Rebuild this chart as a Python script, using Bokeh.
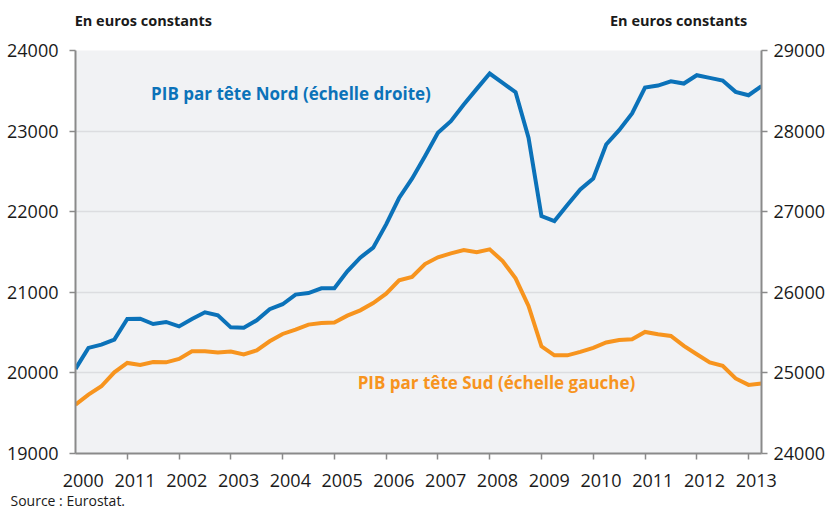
from bokeh.plotting import figure
from bokeh.models import (Range1d, LinearAxis, FixedTicker, Label, Title,
                          CustomJSTickFormatter)
from bokeh.embed import file_html
from bokeh.resources import INLINE

# ---------------- data ----------------
first_year = 2000
n_quarters = 54  # 2000 T1 ... 2013 T2
quarters = [first_year + q / 4 for q in range(n_quarters)]

# PIB par tête Nord (échelle droite), euros constants
nord = [25050, 25310, 25351, 25413, 25669, 25673, 25607, 25632,
        25577, 25669, 25752, 25715, 25565, 25561, 25652, 25790,
        25852, 25972, 25990, 26050, 26050, 26260, 26430, 26554,
        26843, 27170, 27410, 27689, 27979, 28123, 28330, 28524,
        28714, 28599, 28482, 27917, 26945, 26883, 27082, 27276,
        27412, 27834, 28012, 28219, 28540, 28565, 28618, 28590,
        28693, 28660, 28627, 28487, 28445, 28557]

# PIB par tête Sud (échelle gauche), euros constants
sud = [19607, 19731, 19834, 20007, 20124, 20099, 20136, 20131,
       20173, 20268, 20268, 20252, 20264, 20230, 20280, 20392,
       20483, 20537, 20599, 20620, 20624, 20710, 20776, 20867,
       20983, 21148, 21190, 21351, 21434, 21483, 21524, 21496,
       21533, 21388, 21173, 20830, 20330, 20218, 20218, 20260,
       20310, 20377, 20409, 20418, 20508, 20480, 20458, 20335,
       20232, 20129, 20087, 19931, 19851, 19869]

year_ticks = [2000, 2001, 2002, 2003, 2004, 2005, 2006,
              2007, 2008, 2009, 2010, 2011, 2012, 2013]
year_labels = ["2000", "2011", "2002", "2003", "2004", "2005", "2006",
               "2007", "2008", "2009", "2010", "2011", "2012", "2013"]
left_ticks = [19000, 20000, 21000, 22000, 23000, 24000]
right_ticks = [24000, 25000, 26000, 27000, 28000, 29000]

nord_label = "PIB par tête Nord (échelle droite)"
sud_label = "PIB par tête Sud (échelle gauche)"
unit_label = "En euros constants"
source_text = "Source : Eurostat."

# ---------------- styles / positions ----------------
BLUE = "#0b72b9"
ORANGE = "#f7941e"
AXIS = "#8a8a8a"
GRID = "#dcdde0"
TXT = "#1a1a1a"
FONT = "Open Sans"
label_shift = 0.15
unit_label_x = [2001.31, 2011.65]   # centres of the two unit captions

p = figure(width=827, height=513, output_backend="svg", toolbar_location=None,
           x_range=Range1d(first_year, quarters[-1]),
           y_range=Range1d(left_ticks[0], left_ticks[-1]),
           min_border_left=75, min_border_right=65,
           min_border_top=50, min_border_bottom=60)
p.extra_y_ranges = {"right": Range1d(right_ticks[0], right_ticks[-1])}
p.background_fill_color = "#f1f2f4"
p.border_fill_color = "white"
p.outline_line_color = None

# x axis
xa = p.xaxis[0]
xa.ticker = FixedTicker(ticks=[y + label_shift for y in year_ticks],
                        minor_ticks=year_ticks[1:])
xa.formatter = CustomJSTickFormatter(
    args=dict(labels=year_labels, first=year_ticks[0], shift=label_shift),
    code="return labels[Math.round(tick - shift - first)];")
xa.major_tick_line_color = None
xa.major_tick_out = 6
xa.major_tick_in = 0
xa.minor_tick_line_color = AXIS
xa.minor_tick_line_width = 1.5
xa.minor_tick_out = 6
xa.minor_tick_in = 0
xa.axis_line_color = AXIS
xa.axis_line_width = 2
xa.major_label_standoff = 14
xa.major_label_text_font = FONT
xa.major_label_text_font_size = "18px"
xa.major_label_text_color = TXT

# unit captions above the plot (an axis carrying only labels)
ua = LinearAxis(ticker=FixedTicker(ticks=unit_label_x),
                formatter=CustomJSTickFormatter(args=dict(text=unit_label),
                                                code="return text;"))
ua.axis_line_color = None
ua.major_tick_line_color = None
ua.minor_tick_line_color = None
ua.major_tick_out = 0
ua.major_tick_in = 0
ua.major_label_standoff = 21
ua.major_label_text_font = FONT
ua.major_label_text_font_style = "bold"
ua.major_label_text_font_size = "14.5px"
ua.major_label_text_color = TXT
p.add_layout(ua, "above")

# left y axis
ya = p.yaxis[0]
ya.ticker = FixedTicker(ticks=left_ticks)
ya.axis_line_color = AXIS
ya.axis_line_width = 2
ya.major_tick_line_color = AXIS
ya.major_tick_line_width = 1.5
ya.major_tick_out = 6
ya.major_tick_in = 0
ya.minor_tick_line_color = None
ya.major_label_standoff = 11
ya.major_label_text_font = FONT
ya.major_label_text_font_size = "18px"
ya.major_label_text_color = TXT

# right y axis
ra = LinearAxis(y_range_name="right", ticker=FixedTicker(ticks=right_ticks))
ra.axis_line_color = AXIS
ra.axis_line_width = 2
ra.major_tick_line_color = AXIS
ra.major_tick_line_width = 1.5
ra.major_tick_out = 6
ra.major_tick_in = 0
ra.minor_tick_line_color = None
ra.major_label_standoff = 6
ra.major_label_text_font = FONT
ra.major_label_text_font_size = "18px"
ra.major_label_text_color = TXT
p.add_layout(ra, "right")

# grid
p.xgrid.visible = False
p.ygrid.ticker = FixedTicker(ticks=left_ticks)
p.ygrid.grid_line_color = GRID
p.ygrid.grid_line_width = 1.5

# lines
p.line(quarters, sud, line_color=ORANGE, line_width=4, line_join="miter")
p.line(quarters, nord, line_color=BLUE, line_width=4, line_join="miter",
       y_range_name="right")

# series labels
p.add_layout(Label(x=2001.46, y=28466, y_range_name="right", text=nord_label,
                   text_color=BLUE, text_font=FONT, text_font_style="bold",
                   text_font_size="17px", text_baseline="middle", text_align="left"))
p.add_layout(Label(x=2005.45, y=19885, text=sud_label,
                   text_color=ORANGE, text_font=FONT, text_font_style="bold",
                   text_font_size="17px", text_baseline="middle", text_align="left"))

# source line below the chart
p.add_layout(Title(text=source_text, align="left", offset=-65, standoff=3,
                   vertical_align="top", text_font=FONT, text_font_style="normal",
                   text_font_size="14px", text_color=TXT), "below")

open("out.html", "w").write(file_html(p, INLINE))
